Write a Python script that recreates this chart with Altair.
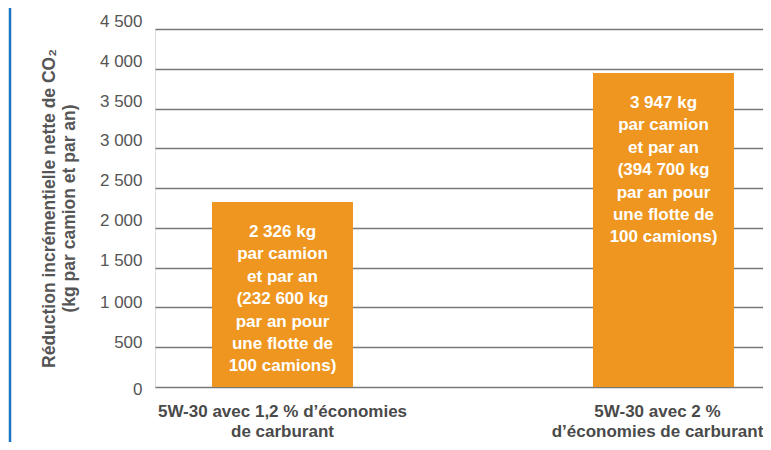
import altair as alt
import pandas as pd

categories = [
    "5W-30 avec 1,2 % d’économies\nde carburant",
    "5W-30 avec 2 %\nd’économies de carburant",
]
values = [2326, 3947]
bar_texts = [
    "2 326 kg\npar camion\net par an\n(232 600 kg\npar an pour\nune flotte de\n100 camions)",
    "3 947 kg\npar camion\net par an\n(394 700 kg\npar an pour\nune flotte de\n100 camions)",
]
y_ticks = [0, 500, 1000, 1500, 2000, 2500, 3000, 3500, 4000, 4500]
y_title = ["Réduction incrémentielle nette de CO₂", "(kg par camion et par an)"]

df = pd.DataFrame({"cat": categories, "val": values, "txt": bar_texts})

FONT = "Liberation Sans"
W, H = 608, 358

x_enc = alt.X(
    "cat:N",
    sort=categories,
    scale=alt.Scale(paddingInner=0.63, paddingOuter=0.1129, align=0.6626),
    axis=alt.Axis(
        title=None,
        labelExpr="split(datum.label, '\\n')",
        labelFont=FONT,
        labelFontSize=17,
        labelFontWeight="bold",
        labelColor="#4a4a4a",
        labelAngle=0,
        labelBaseline="top",
        labelPadding=16,
        labelLineHeight=20,
        labelLimit=0,
        labelOverlap=False,
        labelOffset={
            "condition": {"test": "datum.index > 0.5", "value": -6},
            "value": 0,
        },
        ticks=False,
        domain=False,
    ),
)

y_enc = alt.Y(
    "val:Q",
    scale=alt.Scale(domain=[0, 4500], nice=False),
    axis=alt.Axis(
        title=y_title,
        values=y_ticks,
        labelExpr="replace(format(datum.value, ',d'), ',', ' ')",
        labelFont=FONT,
        labelFontSize=17,
        labelColor="#555555",
        labelPadding=13,
        labelBaseline="middle",
        labelOverlap=False,
        labelOffset={
            "condition": [
                {"test": "datum.value == 0", "value": 2},
                {"test": "datum.value <= 1000", "value": -4.5},
            ],
            "value": -7.5,
        },
        ticks=False,
        domain=False,
        grid=True,
        gridColor="#777777",
        gridWidth=1.6,
        titleFont=FONT,
        titleFontSize=17.5,
        titleFontWeight="bold",
        titleColor="#555555",
        titleAngle=-90,
        titleX=-106,
        titleY=H / 2,
        titleAlign="center",
        titleBaseline="middle",
        titleLineHeight=20,
    ),
)

base = alt.Chart(df).encode(x=x_enc, y=y_enc)

bars = base.mark_bar(color="#EE961F")

texts = base.mark_text(
    color="white",
    font=FONT,
    fontSize=17,
    fontWeight="bold",
    lineBreak="\n",
    lineHeight=22.4,
    baseline="top",
    align="center",
    dy=22,
).encode(text="txt:N")

border = alt.Chart(pd.DataFrame({"a": [0]})).mark_rule(
    color="#1B74C2", strokeWidth=2.5
).encode(x=alt.value(-145), y=alt.value(-21), y2=alt.value(H + 60))

chart = (
    alt.layer(bars, texts, border)
    .properties(
        width=W,
        height=H,
        autosize=alt.AutoSizeParams(type="none"),
        padding={"left": 147, "top": 21, "right": 0, "bottom": 55},
    )
    .configure_view(stroke=None)
    .configure(background="white")
)

chart.save("out.html", embed_options={"renderer": "svg", "actions": False})
